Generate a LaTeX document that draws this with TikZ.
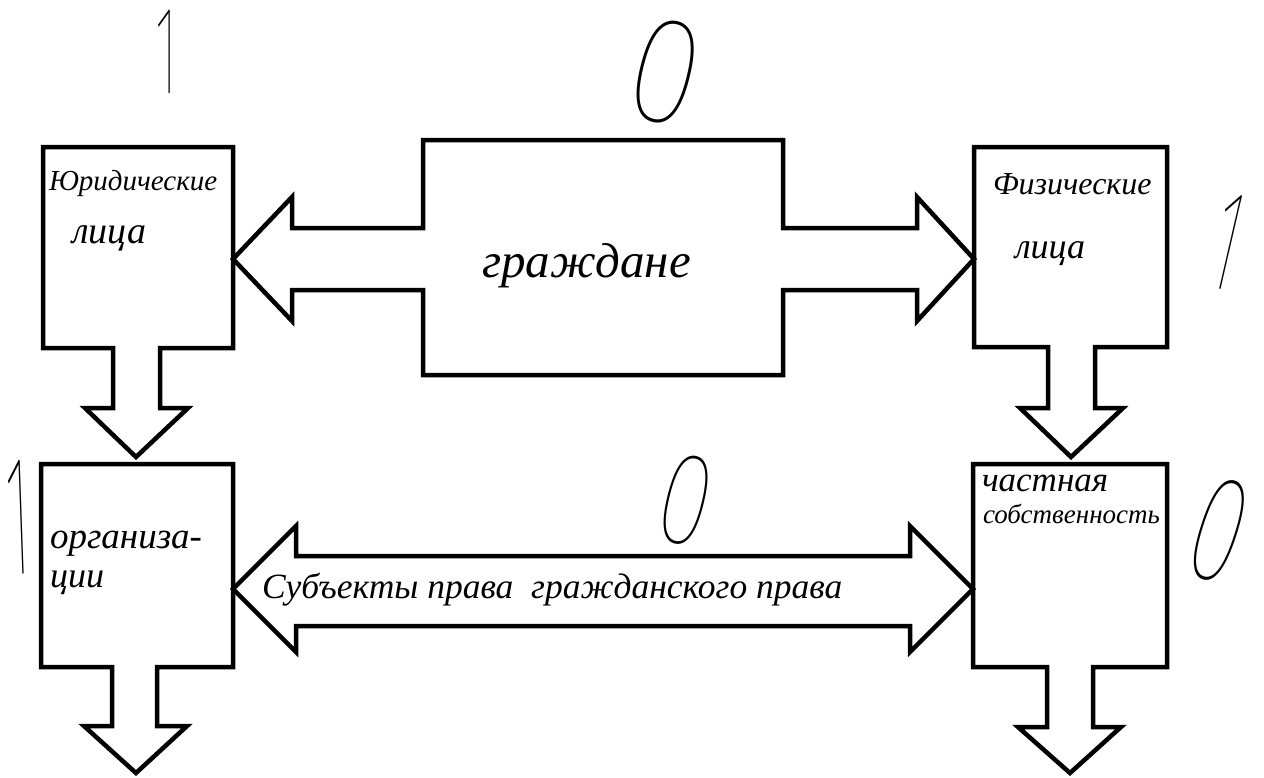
\documentclass[tikz,border=0pt]{standalone}
\usepackage{fontspec}
\usepackage{graphicx}
\setmainfont{Liberation Serif}
\IfFontExistsTF{Fira Sans Thin}{\newfontfamily\gradefont{Fira Sans Thin}}{%
  \IfFontExistsTF{FiraSans-Thin.otf}{\newfontfamily\gradefont{FiraSans-Thin.otf}}{%
    \IfFontExistsTF{Fira Sans Light}{\newfontfamily\gradefont{Fira Sans Light}}{%
      \newfontfamily\gradefont{Noto Sans}}}}
\begin{document}
\begin{tikzpicture}[x=1pt,y=-1pt,
  box/.style={rectangle, inner sep=0pt, outer sep=0pt},
  outline/.style={line width=4.5pt, line join=miter, draw=black},
  hand/.style={inner sep=0pt, outer sep=0pt, anchor=base west},
  grade/.style={inner sep=0pt, outer sep=0pt}]
\useasboundingbox[fill=white] (0,0) rectangle (1264,777);

% boxes (named)
\node[box, minimum width=190pt, minimum height=201pt] (A) at (138,247.5) {};
\node[box, minimum width=360pt, minimum height=235pt] (M) at (603,257.5) {};
\node[box, minimum width=193pt, minimum height=200pt] (B) at (1070.5,247) {};
\node[box, minimum width=192pt, minimum height=203pt] (C) at (137,565.5) {};
\node[box, minimum width=194pt, minimum height=203pt] (D) at (1070,565.5) {};

% centre box with its two block arrows
\draw[outline] (M.north west) -- (M.north east) -- (783,228) -- (917,228) -- (917,197)
  -- (B.west |- 0,259) -- (917,321) -- (917,290) -- (783,290) -- (M.south east)
  -- (M.south west) -- (423,290) -- (292,290) -- (292,321) -- (A.east |- 0,259)
  -- (292,197) -- (292,228) -- (423,228) -- cycle;

% left top box with down arrow
\draw[outline] (A.north west) -- (A.north east) -- (A.south east) -- (160,348) -- (160,408)
  -- (188,408) -- (136,457) -- (85,408) -- (113,408) -- (113,348) -- (A.south west) -- cycle;

% right top box with down arrow
\draw[outline] (B.north west) -- (B.north east) -- (B.south east) -- (1095,347) -- (1095,408)
  -- (1123,408) -- (1071,457) -- (1020,408) -- (1048,408) -- (1048,347) -- (B.south west) -- cycle;

% left bottom box with down arrow
\draw[outline] (C.north west) -- (C.north east) -- (C.south east) -- (157,667) -- (157,726)
  -- (187,726) -- (136,773) -- (84,726) -- (112,726) -- (112,667) -- (C.south west) -- cycle;

% right bottom box with down arrow
\draw[outline] (D.north west) -- (D.north east) -- (D.south east) -- (1093,667) -- (1093,727)
  -- (1121,727) -- (1070,773) -- (1018,727) -- (1047,727) -- (1047,667) -- (D.south west) -- cycle;

% bottom double arrow
\draw[outline] (C.east |- 0,589) -- (296,526) -- (296,556) -- (910,556) -- (910,526)
  -- (D.west |- 0,589) -- (910,652) -- (910,626) -- (296,626) -- (296,652) -- cycle;

% handwritten texts
\node[hand, font=\itshape\fontsize{29}{29}\selectfont] (tA1) at (49,190) {Юридические};
\node[hand, font=\itshape\fontsize{38}{38}\selectfont] (tA2) at (72,243) {лица};
\node[hand, font=\itshape\fontsize{32}{32}\selectfont] (tB1) at (993,194) {Физические};
\node[hand, font=\itshape\fontsize{36}{36}\selectfont] (tB2) at (1015,258) {лица};
\node[hand, font=\itshape\fontsize{49}{49}\selectfont] (tM) at (482,277) {граждане};
\node[hand, font=\itshape\fontsize{37}{37}\selectfont] (tC1) at (50,548) {организа-};
\node[hand, font=\itshape\fontsize{36}{36}\selectfont] (tC2) at (50,587) {ции};
\node[hand, font=\itshape\fontsize{35}{35}\selectfont] (tD1) at (982,491) {частная};
\node[hand, font=\itshape\fontsize{27}{27}\selectfont] (tD2) at (983,523) {собственность};
\node[hand, font=\itshape\fontsize{35.5}{35.5}\selectfont] (tS) at (262,598) {Субъекты права\ \ гражданского права};

% grades
\node[grade] (g1) at (167,52) {\scalebox{0.45}[1]{\gradefont\fontsize{126}{126}\selectfont 1}};
\node[grade, rotate=-13] (g2) at (1228,242) {\scalebox{0.45}[1]{\gradefont\fontsize{145}{145}\selectfont 1}};
\node[grade, rotate=2] (g3) at (18,517) {\scalebox{0.35}[1]{\gradefont\fontsize{172}{172}\selectfont 1}};
\node[grade, rotate=-14] (g4) at (666,72) {\scalebox{0.85}[1]{\gradefont\fontsize{152}{152}\selectfont 0}};
\node[grade, rotate=-14] (g5) at (686,500) {\scalebox{0.72}[1]{\gradefont\fontsize{132}{132}\selectfont 0}};
\node[grade, rotate=-18] (g6) at (1219,530) {\scalebox{0.62}[1]{\gradefont\fontsize{152}{152}\selectfont 0}};
\end{tikzpicture}
\end{document}
